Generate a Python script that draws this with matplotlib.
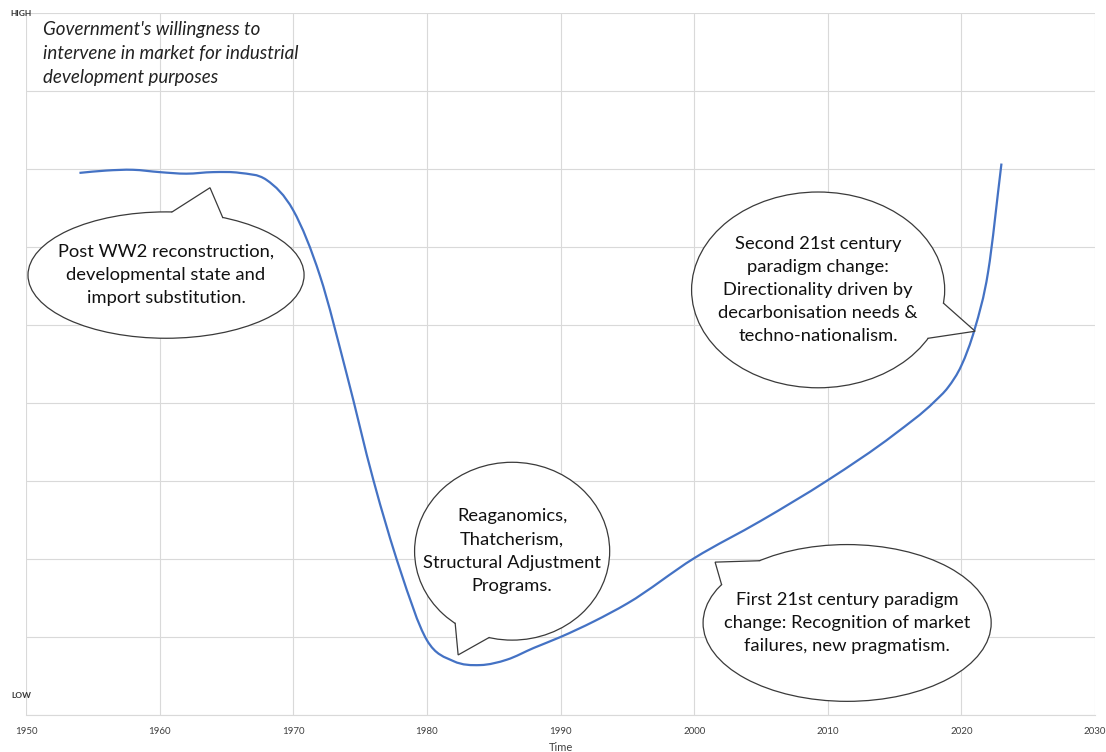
import numpy as np
import matplotlib
matplotlib.use("Agg")
import matplotlib.pyplot as plt
from matplotlib.path import Path
from matplotlib.patches import PathPatch, Ellipse, Polygon

plt.rcParams['font.family'] = ['Lato', 'DejaVu Sans']

# willingness curve (0 = low, 9 = high)
years = [1954, 1956, 1958, 1960, 1962, 1964, 1966, 1968, 1970, 1972,
         1974, 1976, 1978, 1980, 1982, 1984, 1986, 1988, 1990, 1992.5,
         1995, 2000, 2005, 2010, 2015, 2018, 2019, 2020, 2021, 2022, 2023]
levels = [6.95, 6.98, 6.99, 6.96, 6.94, 6.96, 6.95, 6.86, 6.47, 5.63,
          4.37, 3.01, 1.86, 0.96, 0.69, 0.64, 0.71, 0.86, 1.0, 1.20,
          1.43, 2.01, 2.49, 3.01, 3.60, 4.02, 4.20, 4.48, 4.95, 5.68, 7.07]

xticks = [1950, 1960, 1970, 1980, 1990, 2000, 2010, 2020, 2030]

title = "Government's willingness to\nintervene in market for industrial\ndevelopment purposes"

# callouts: text, ellipse centre/size, pointer base, tip, base
callouts = [
    ("Post WW2 reconstruction,\ndevelopmental state and\nimport substitution.",
     (1960.48, 5.64), (20.66, 1.62), (1960.93, 6.45), (1963.77, 6.76), (1964.67, 6.37)),
    ("Reaganomics,\nThatcherism,\nStructural Adjustment\nPrograms.",
     (1986.38, 2.10), (14.6, 2.28), (1982.19, 1.19), (1982.34, 0.77), (1984.66, 1.0)),
    ("Second 21st century\nparadigm change:\nDirectionality driven by\ndecarbonisation needs &\ntechno-nationalism.",
     (2009.28, 5.45), (18.94, 2.51), (2018.64, 5.28), (2021.03, 4.92), (2017.51, 4.83)),
    ("First 21st century paradigm\nchange: Recognition of market\nfailures, new pragmatism.",
     (2011.45, 1.18), (21.56, 2.01), (2004.79, 1.99), (2001.57, 1.96), (2002.10, 1.67)),
]


def smooth_path(x, y):
    # cubic Hermite through the points, slopes from the neighbouring segments
    x = np.asarray(x, float)
    y = np.asarray(y, float)
    h = np.diff(x)
    d = np.diff(y) / h
    m = np.empty_like(y)
    m[0], m[-1] = d[0], d[-1]
    m[1:-1] = (d[:-1] * h[1:] + d[1:] * h[:-1]) / (h[:-1] + h[1:])
    verts = [(x[0], y[0])]
    codes = [Path.MOVETO]
    for i in range(len(x) - 1):
        verts += [(x[i] + h[i] / 3, y[i] + m[i] * h[i] / 3),
                  (x[i + 1] - h[i] / 3, y[i + 1] - m[i + 1] * h[i] / 3),
                  (x[i + 1], y[i + 1])]
        codes += [Path.CURVE4] * 3
    return Path(verts, codes)


def snap(cx, cy, w, h, p):
    t = np.arctan2((p[1] - cy) / (h / 2), (p[0] - cx) / (w / 2))
    return (cx + w / 2 * np.cos(t), cy + h / 2 * np.sin(t))


def bubble(ax, text, c, size, b1, tip, b2):
    cx, cy = c
    w, h = size
    ax.add_patch(Ellipse(c, w, h, facecolor='white', edgecolor='#3a3a3a',
                         lw=0.9, zorder=4))
    b1 = snap(cx, cy, w, h, b1)
    b2 = snap(cx, cy, w, h, b2)
    # pull the inner corners a bit inwards so the fill hides the ellipse edge
    i1 = (b1[0] + (cx - b1[0]) * 0.06, b1[1] + (cy - b1[1]) * 0.06)
    i2 = (b2[0] + (cx - b2[0]) * 0.06, b2[1] + (cy - b2[1]) * 0.06)
    ax.add_patch(Polygon([i1, b1, tip, b2, i2], closed=True, facecolor='white',
                         edgecolor='none', zorder=5))
    ax.plot([b1[0], tip[0], b2[0]], [b1[1], tip[1], b2[1]], color='#3a3a3a',
            lw=0.9, zorder=6, solid_joinstyle='miter')
    ax.text(cx, cy, text, ha='center', va='center', fontsize=13.2,
            color='#111111', linespacing=1.55, zorder=7)


fig = plt.figure(figsize=(11.06, 7.52), dpi=100)
ax = fig.add_axes([26 / 1106, 37 / 752, 1069 / 1106, 702 / 752])

ax.set_xlim(1950, 2030)
ax.set_ylim(0, 9)
ax.set_xticks(xticks)
ax.set_xticklabels([str(t) for t in xticks], fontsize=7, color='#404040')
ax.set_yticks(range(0, 10))
ax.set_yticklabels([])
ax.tick_params(length=0, pad=9)
ax.grid(True, color='#d9d9d9', lw=0.8)
for s in ['top', 'right', 'left']:
    ax.spines[s].set_visible(False)
ax.spines['bottom'].set_color('#d9d9d9')
ax.set_xlabel("Time", fontsize=8, color='#404040', labelpad=4)

ax.add_patch(PathPatch(smooth_path(years, levels), facecolor='none',
                       edgecolor='#4472c4', lw=1.6, zorder=3))

for text, c, size, b1, tip, b2 in callouts:
    bubble(ax, text, c, size, b1, tip, b2)

ax.text(0.016, 0.988, title, transform=ax.transAxes, ha='left', va='top',
        fontsize=13.5, style='italic', color='#222222', linespacing=1.47)

ax.text(0.005, 1.0, "HIGH", transform=ax.transAxes, ha='right', va='center',
        fontsize=6, fontweight='bold', color='#333333')
ax.text(0.005, 0.028, "LOW", transform=ax.transAxes, ha='right', va='center',
        fontsize=6, fontweight='bold', color='#333333')

fig.savefig("out.png", dpi=100)
